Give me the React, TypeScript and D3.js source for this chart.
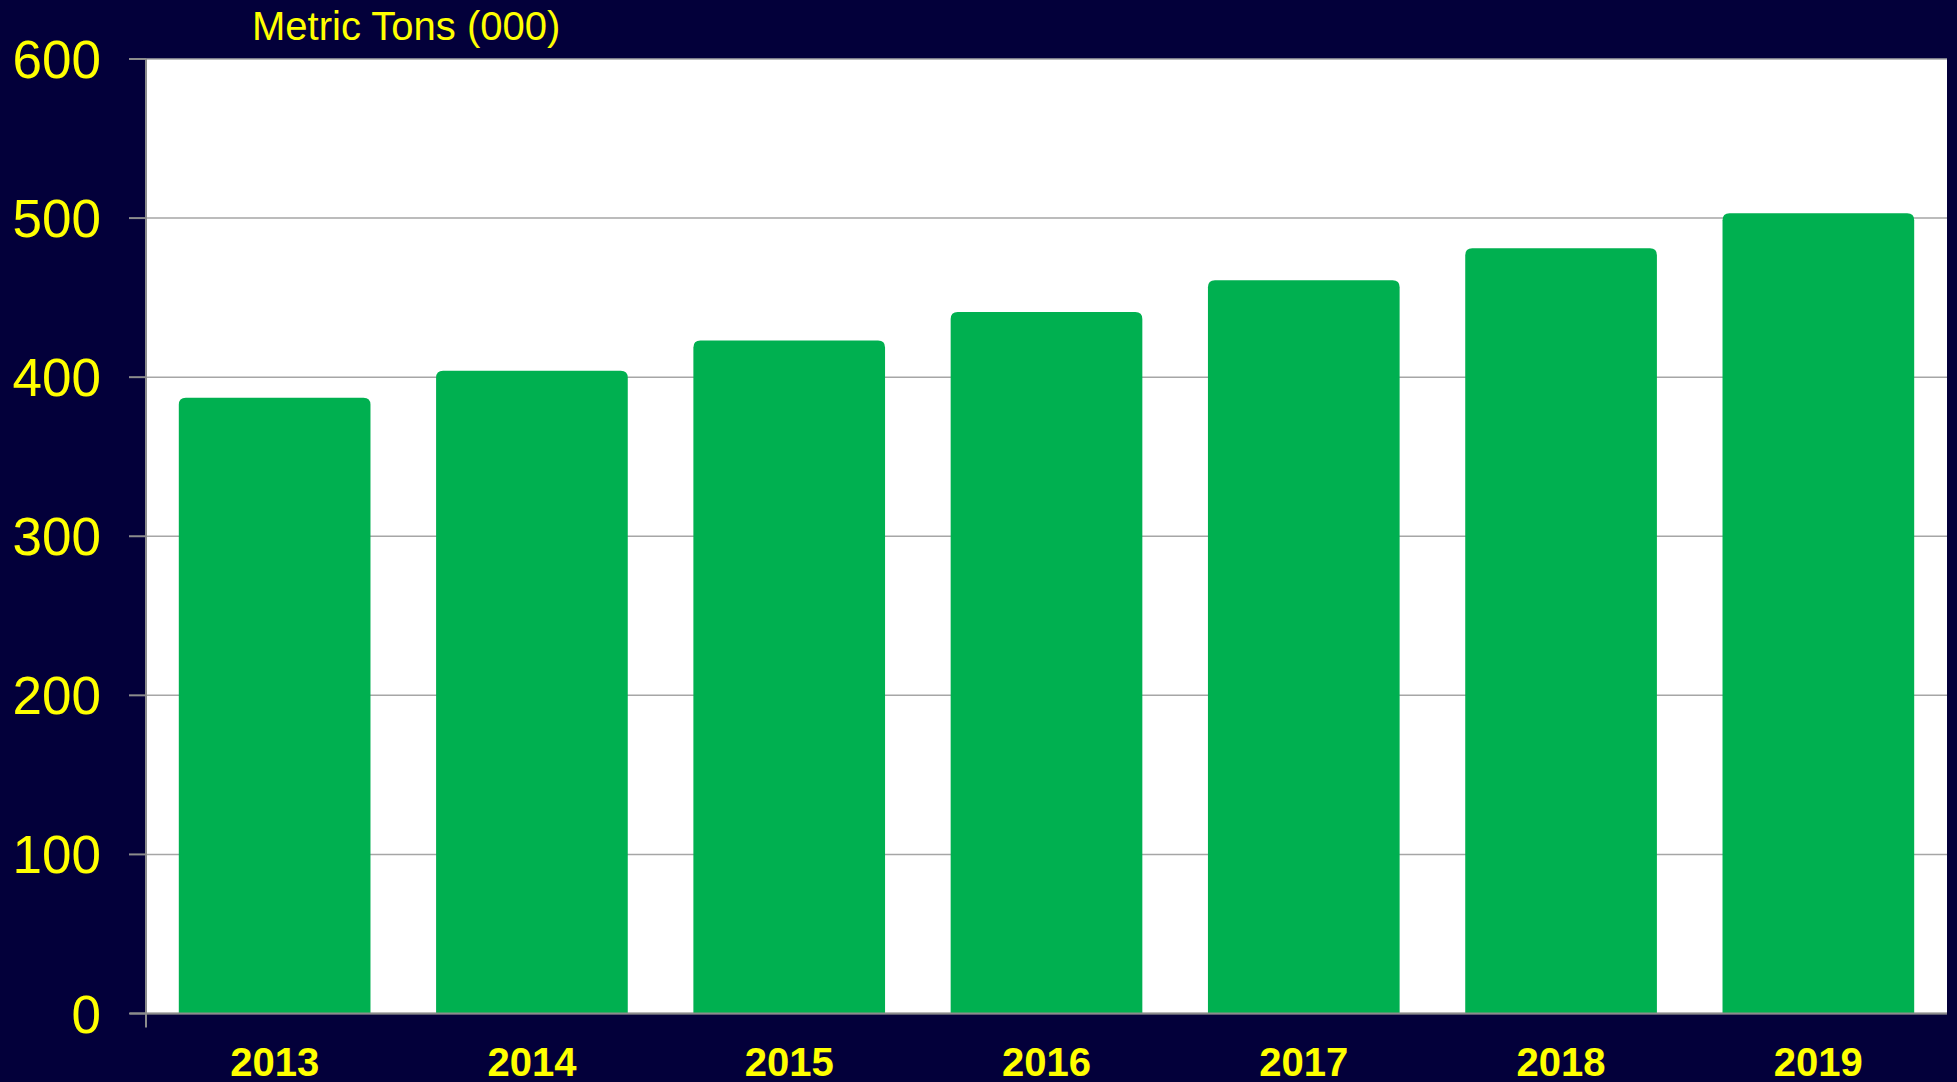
import React from "react";
import * as d3 from "d3";

const years = ["2013", "2014", "2015", "2016", "2017", "2018", "2019"];
const values = [387, 404, 423, 441, 461, 481, 503];
const yTicks = [0, 100, 200, 300, 400, 500, 600];
const title = "Metric Tons (000)";

const W = 1957;
const H = 1082;
const plotLeft = 146;
const plotRight = 1947;
const plotTop = 59;
const plotBottom = 1013.5;

const BG = "#03003a";
const GREEN = "#00b050";
const YELLOW = "#ffff00";
const GRID = "#a6a6a6";
const AXIS = "#8c8c8c";
const FONT = "'Liberation Sans', Arial, sans-serif";

function topRoundedBar(x: number, y: number, w: number, h: number, r: number) {
  const rr = Math.min(r, w / 2, h);
  return `M${x},${y + h} L${x},${y + rr} Q${x},${y} ${x + rr},${y} L${x + w - rr},${y} Q${x + w},${y} ${x + w},${y + rr} L${x + w},${y + h} Z`;
}

export default function App() {
  const x = d3
    .scaleBand<string>()
    .domain(years)
    .range([plotLeft, plotRight])
    .paddingInner(0.255)
    .paddingOuter(0.1275);
  const y = d3.scaleLinear().domain([0, 600]).range([plotBottom, plotTop]);

  return (
    <svg
      width={W}
      height={H}
      style={{ position: "absolute", left: 0, top: 0, display: "block" }}
    >
      <rect x={0} y={0} width={W} height={H} fill={BG} />
      <rect
        x={plotLeft}
        y={plotTop}
        width={plotRight - plotLeft}
        height={plotBottom - plotTop}
        fill="#ffffff"
      />
      {yTicks.map((t) => (
        <line
          key={"g" + t}
          x1={plotLeft}
          x2={plotRight}
          y1={y(t)}
          y2={y(t)}
          stroke={GRID}
          strokeWidth={1.5}
        />
      ))}
      {years.map((yr, i) => {
        const bx = x(yr) as number;
        const bw = x.bandwidth();
        const top = y(values[i]);
        return (
          <path
            key={yr}
            d={topRoundedBar(bx, top, bw, plotBottom - top, 7)}
            fill={GREEN}
          />
        );
      })}
      {/* y axis */}
      <line x1={plotLeft} x2={plotLeft} y1={plotTop} y2={plotBottom} stroke={AXIS} strokeWidth={2} />
      {yTicks.map((t) => (
        <line
          key={"t" + t}
          x1={plotLeft - 17}
          x2={plotLeft}
          y1={y(t)}
          y2={y(t)}
          stroke={AXIS}
          strokeWidth={2}
        />
      ))}
      {/* x axis */}
      <line x1={plotLeft - 16} x2={plotRight} y1={plotBottom} y2={plotBottom} stroke={AXIS} strokeWidth={2} />
      <line x1={plotLeft} x2={plotLeft} y1={plotBottom} y2={plotBottom + 14} stroke={AXIS} strokeWidth={2} />
      {yTicks.map((t) => (
        <text
          key={"l" + t}
          x={101}
          y={y(t) + 19}
          textAnchor="end"
          fill={YELLOW}
          fontFamily={FONT}
          fontSize={53}
        >
          {t}
        </text>
      ))}
      {years.map((yr) => (
        <text
          key={"x" + yr}
          x={(x(yr) as number) + x.bandwidth() / 2}
          y={1076}
          textAnchor="middle"
          fill={YELLOW}
          fontFamily={FONT}
          fontWeight="bold"
          fontSize={40}
        >
          {yr}
        </text>
      ))}
      <text x={252} y={39.5} fill={YELLOW} fontFamily={FONT} fontSize={40}>
        {title}
      </text>
    </svg>
  );
}
